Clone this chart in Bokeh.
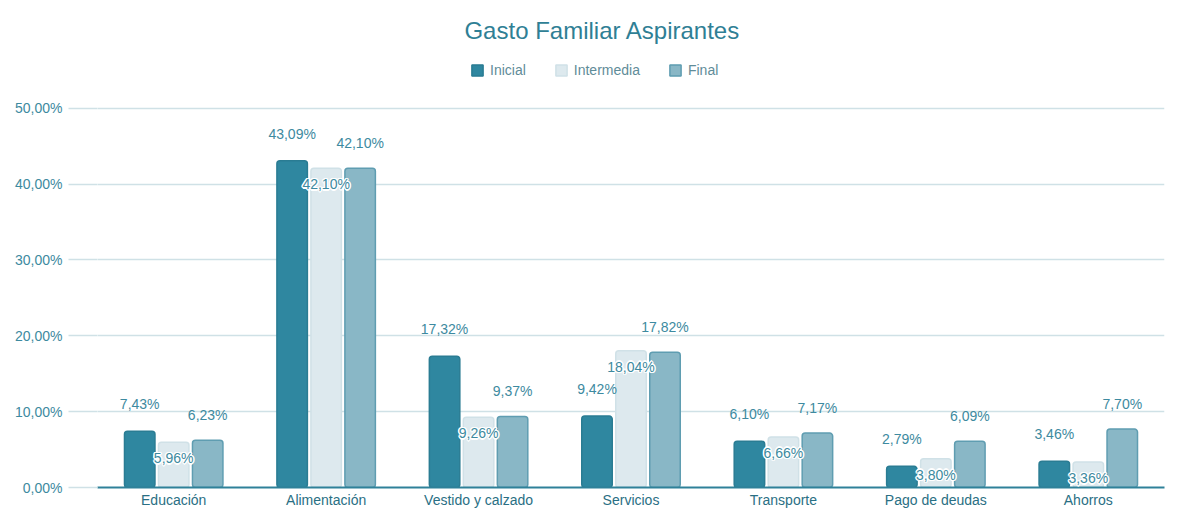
from bokeh.plotting import figure
from bokeh.models import (ColumnDataSource, FactorRange, Range1d, FixedTicker, LabelSet,
                          Label, Legend, LegendItem)
from bokeh.core.properties import value
from bokeh.transform import dodge
from bokeh.embed import file_html
from bokeh.resources import INLINE

categories = ["Educación", "Alimentación", "Vestido y calzado", "Servicios",
              "Transporte", "Pago de deudas", "Ahorros"]
inicial = [7.43, 43.09, 17.32, 9.42, 6.10, 2.79, 3.46]
intermedia = [5.96, 42.10, 9.26, 18.04, 6.66, 3.80, 3.36]
final = [6.23, 42.10, 9.37, 17.82, 7.17, 6.09, 7.70]
y_ticks = [0, 10, 20, 30, 40, 50]
title_text = "Gasto Familiar Aspirantes"
series_names = ["Inicial", "Intermedia", "Final"]


def fmt(v):
    return f"{v:.2f}".replace(".", ",") + "%"


src = ColumnDataSource(dict(
    cat=categories,
    inicial=inicial, intermedia=intermedia, final=final,
    l_ini=[fmt(v) for v in inicial],
    l_int=[fmt(v) for v in intermedia],
    l_fin=[fmt(v) for v in final],
))

FONT = "Liberation Sans"
TXT = "#3d8aa0"

p = figure(width=1176, height=510, output_backend="svg", toolbar_location=None,
           x_range=FactorRange(*categories, range_padding=0),
           y_range=Range1d(0, 63.55),
           min_border_left=97, min_border_right=12, min_border_top=5, min_border_bottom=21)
p.outline_line_color = None
p.background_fill_color = "white"
p.xgrid.grid_line_color = None
p.ygrid.grid_line_color = "#cfe1e6"
p.ygrid.grid_line_width = 1.5
p.yaxis.ticker = FixedTicker(ticks=y_ticks)
p.yaxis.major_label_overrides = {t: fmt(t) for t in y_ticks}
p.yaxis.axis_line_color = None
p.yaxis.major_tick_out = 29
p.yaxis.major_tick_in = 0
p.yaxis.major_tick_line_color = "#cfe1e6"
p.yaxis.major_tick_line_width = 1.5
p.yaxis.minor_tick_line_color = None
p.yaxis.major_label_standoff = 6
p.yaxis.major_label_text_font = FONT
p.yaxis.major_label_text_font_size = "14px"
p.yaxis.major_label_text_color = TXT

p.xaxis.axis_line_color = "#2f8199"
p.xaxis.axis_line_width = 2
p.xaxis.major_tick_out = 0
p.xaxis.major_tick_in = 0
p.xaxis.major_tick_line_color = None
p.xaxis.minor_tick_line_color = None
p.xaxis.major_label_standoff = 4
p.xaxis.major_label_text_font = FONT
p.xaxis.major_label_text_font_size = "14px"
p.xaxis.major_label_text_color = "#2a6f84"

W = 0.2
r1 = p.vbar(x=dodge("cat", -0.223, range=p.x_range), top="inicial", width=W, source=src,
            fill_color="#2f87a0", line_color="#2a7c93", line_width=1.5, border_radius=3)
r2 = p.vbar(x=dodge("cat", 0.0, range=p.x_range), top="intermedia", width=W, source=src,
            fill_color="#dde9ee", line_color="#d0e1e7", line_width=1.5, border_radius=3)
r3 = p.vbar(x=dodge("cat", 0.223, range=p.x_range), top="final", width=W, source=src,
            fill_color="#89b7c6", line_color="#5f9db1", line_width=1.5, border_radius=3)

common = dict(source=src, text_font=value(FONT), text_font_size=value("14px"),
              text_align="center", text_baseline="middle")
p.add_layout(LabelSet(x=dodge("cat", -0.223, range=p.x_range), y="inicial", text="l_ini",
                      x_offset=0, y_offset=27, text_color=TXT, **common))
# white halo behind intermediate labels
for dx, dy in [(-1.5, 0), (1.5, 0), (0, -1.5), (0, 1.5), (-1, -1), (1, 1), (-1, 1), (1, -1)]:
    p.add_layout(LabelSet(x=dodge("cat", 0.0, range=p.x_range), y="intermedia", text="l_int",
                          x_offset=dx, y_offset=-16 + dy, text_color="white", **common))
p.add_layout(LabelSet(x=dodge("cat", 0.0, range=p.x_range), y="intermedia", text="l_int",
                      x_offset=0, y_offset=-16, text_color=TXT, **common))
p.add_layout(LabelSet(x=dodge("cat", 0.223, range=p.x_range), y="final", text="l_fin",
                      x_offset=0, y_offset=25, text_color=TXT, **common))

p.add_layout(Label(x=3.313, y=60.25, text=title_text, text_font=FONT, text_font_size="24px",
                   text_color="#2f7f95", text_align="center", text_baseline="middle"))

legend = Legend(items=[LegendItem(label=series_names[0], renderers=[r1]),
                       LegendItem(label=series_names[1], renderers=[r2]),
                       LegendItem(label=series_names[2], renderers=[r3])],
                orientation="horizontal", location=(373, 409),
                glyph_width=14, glyph_height=14, label_height=14, label_standoff=6,
                spacing=28, padding=0, margin=0, border_line_color=None,
                background_fill_color=None, label_text_font=FONT,
                label_text_font_size="14px", label_text_color="#5f8c99")
p.add_layout(legend)

open("out.html", "w").write(file_html(p, INLINE))
